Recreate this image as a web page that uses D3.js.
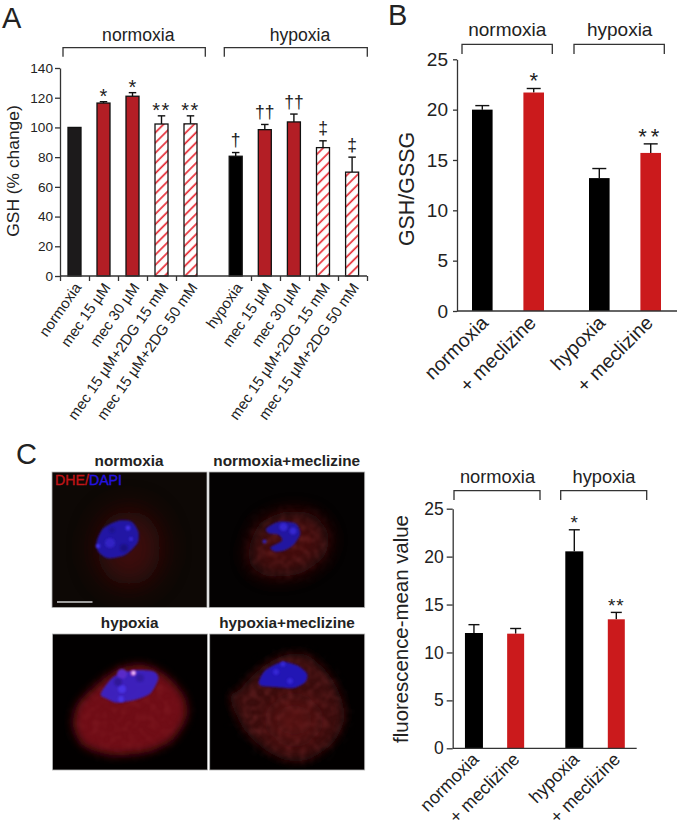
<!DOCTYPE html>
<html><head><meta charset="utf-8">
<script src="https://cdn.jsdelivr.net/npm/d3@7"></script>
<style>
html,body{margin:0;padding:0;background:#fff}
svg{display:block}
text{font-family:"Liberation Sans",Arial,sans-serif;fill:#222}
</style></head><body>
<svg id="fig" width="678" height="827"></svg>
<script>
// ---- Panel A
const categoriesA = ["normoxia","mec 15 µM","mec 30 µM","mec 15 µM+2DG 15 mM","mec 15 µM+2DG 50 mM",
                     "hypoxia","mec 15 µM","mec 30 µM","mec 15 µM+2DG 15 mM","mec 15 µM+2DG 50 mM"];
const valuesA = [100,116.4,121,102.3,102.4,80.6,98.5,103.7,86.4,69.9];
const errorsA = [0,0.9,2.4,5.5,5.4,2.5,3.5,5.3,4.6,10.1];
const marksA  = ["","*","*","**","**","†","††","††","‡","‡"];
const fillsA  = ["dark","red","red","hatch","hatch","black","red","red","hatch","hatch"];
const ticksA  = [0,20,40,60,80,100,120,140];
// ---- Panel B
const categoriesB = ["normoxia","+ meclizine","hypoxia","+ meclizine"];
const valuesB = [20,21.7,13.2,15.7];
const errorsB = [0.4,0.4,0.95,0.9];
const marksB  = ["","*","","**"];
// ---- Panel C chart
const categoriesC = ["normoxia","+ meclizine","hypoxia","+ meclizine"];
const valuesC = [12.03,11.96,20.55,13.46];
const errorsC = [0.87,0.54,2.25,0.72];
const marksC  = ["","","*","**"];
const ticksBC = [0,5,10,15,20,25];
const groupLabels = ["normoxia","hypoxia"];
const imageTitles = ["normoxia","normoxia+meclizine","hypoxia","hypoxia+meclizine"];

const svg = d3.select("#fig");
const defs = svg.append("defs");
const INK="#222", RED_A="#b31e25", RED_B="#cb1a1c", HATCH="#e62b35";

defs.append("pattern").attr("id","hatch").attr("patternUnits","userSpaceOnUse")
  .attr("width",7.2).attr("height",7.2).attr("patternTransform","rotate(45)")
  .call(p=>{p.append("rect").attr("width",7.2).attr("height",7.2).attr("fill","#fff");
            p.append("line").attr("x1",2).attr("x2",2).attr("y1",0).attr("y2",7.2)
             .attr("stroke",HATCH).attr("stroke-width",1.7);});

const fillOf = {dark:"#1c1a1b",black:"#000",red:RED_A,hatch:"url(#hatch)"};

function yAxis(g,y,ticks,opt){
  const a=g.append("g").attr("transform",`translate(${opt.x},0)`)
    .call(d3.axisLeft(y).tickValues(ticks).tickSize(opt.tick).tickSizeOuter(0).tickPadding(opt.pad).tickFormat(d3.format("d")));
  a.selectAll("text").attr("font-size",opt.font).attr("font-family",null).attr("fill",INK);
  a.selectAll("line,path").attr("stroke","#333").attr("stroke-width",1.3);
  a.attr("font-family",null);
}
function bracket(g,x0,x1,y0,y1,label,lx,ly,size){
  g.append("path").attr("d",d3.line()([[x0,y1],[x0,y0],[x1,y0],[x1,y1]]))
    .attr("fill","none").attr("stroke","#333").attr("stroke-width",1.3);
  g.append("text").attr("x",lx).attr("y",ly).attr("text-anchor","middle").attr("font-size",size).text(label);
}
function errorBar(g,x,y,v,e,cap){
  if(!e) return;
  g.append("line").attr("x1",x).attr("x2",x).attr("y1",y(v)).attr("y2",y(v+e)).attr("stroke","#111").attr("stroke-width",1.4);
  g.append("line").attr("x1",x-cap/2).attr("x2",x+cap/2).attr("y1",y(v+e)).attr("y2",y(v+e)).attr("stroke","#111").attr("stroke-width",1.4);
}
function rotLabel(g,x,y,t,size,angle){
  g.append("text").attr("transform",`translate(${x},${y}) rotate(${angle})`)
    .attr("text-anchor","end").attr("font-size",size).text(t);
}
function yTitle(g,x,y,t,size){
  g.append("text").attr("transform",`translate(${x},${y}) rotate(-90)`)
    .attr("text-anchor","middle").attr("font-size",size).text(t);
}
function letter(t,x,y){ svg.append("text").attr("x",x).attr("y",y).attr("font-size",29).text(t); }

// ============ Panel A
(function(){
  const g=svg.append("g");
  const y=d3.scaleLinear().domain([0,140]).range([276,68]);
  const bandL=d3.scaleBand().domain(d3.range(5)).range([60,205]);
  const bandR=d3.scaleBand().domain(d3.range(5,10)).range([221.2,366.7]);
  const cx=i=>(i<5?bandL(i):bandR(i))+bandL.bandwidth()/2;
  const bw=13;
  categoriesA.forEach((c,i)=>{
    errorBar(g,cx(i),y,valuesA[i],errorsA[i],7.5);
    g.append("rect").attr("x",cx(i)-bw/2).attr("width",bw).attr("y",y(valuesA[i])).attr("height",y(0)-y(valuesA[i]))
      .attr("fill",fillOf[fillsA[i]]).attr("stroke","#111").attr("stroke-width",1.3);
    rotLabel(g,cx(i)+7.5,287.5,c,14.9,-55);
    const m=marksA[i];
    if(m){
      const star=m[0]==="*";
      g.append("text").attr("x",cx(i)).attr("y",y(valuesA[i]+errorsA[i])+(star?1.5:-6.5))
        .attr("text-anchor","middle").attr("font-size",star?20:17.5)
        .attr("letter-spacing",star&&m.length>1?1.5:0).text(m);
    }
  });
  // x axis: ticks on the band edges between bars
  const xl=d3.scaleLinear().domain([0,5]).range([60,205]);
  const xr=d3.scaleLinear().domain([0,5]).range([222,367]);
  [[xl,[0,1,2,3,4]],[xr,[1,2,3,4,5]]].forEach(([s,tv])=>{
    const a=g.append("g").attr("transform","translate(0,276)")
      .call(d3.axisBottom(s).tickValues(tv).tickSize(5).tickSizeOuter(0).tickFormat(""));
    a.select("path").remove();
    a.selectAll("line").attr("stroke","#333").attr("stroke-width",1.3);
  });
  g.append("line").attr("x1",60).attr("x2",367).attr("y1",y(0)).attr("y2",y(0)).attr("stroke","#333").attr("stroke-width",1.3);
  yAxis(g,y,ticksA,{x:60,tick:5,pad:2,font:13.6});
  yTitle(g,19,171,"GSH (% change)",17.4);
  bracket(g,63,205.3,47.7,56.7,groupLabels[0],138.3,41,17.6);
  bracket(g,224.3,367.3,47.7,56.7,groupLabels[1],300,41,17.6);
})();
letter("A",2,28);

// ============ Panels B and C charts
function simple(o){
  const g=svg.append("g");
  const y=d3.scaleLinear().domain([0,25]).range(o.yr);
  const left=d3.scaleBand().domain([0,1]).range(o.leftRange);
  const right=d3.scaleBand().domain([2,3]).range(o.rightRange);
  const cx=i=>(i<2?left(i)+left.bandwidth()/2:right(i)+right.bandwidth()/2);
  o.cats.forEach((c,i)=>{
    errorBar(g,cx(i),y,o.vals[i],o.errs[i],o.cap);
    const black=i%2===0, w=black?o.bw:o.bwRed;
    g.append("rect").attr("x",cx(i)-w/2).attr("width",w).attr("y",y(o.vals[i])).attr("height",y(0)-y(o.vals[i]))
      .attr("fill",black?"#000":RED_B);
    rotLabel(g,cx(i)+o.lx+(black?0:o.lxRed),y(0)+o.ly,c,o.lfont,-45);
    if(o.marks[i]) g.append("text").attr("x",cx(i)).attr("y",y(o.vals[i]+o.errs[i])+o.mdy)
      .attr("text-anchor","middle").attr("font-size",o.mfont)
      .attr("letter-spacing",o.marks[i].length>1?o.mls:0).text(o.marks[i]);
  });
  g.append("line").attr("x1",o.x0).attr("x2",o.xEnd).attr("y1",y(0)).attr("y2",y(0)).attr("stroke","#333").attr("stroke-width",1.3);
  yAxis(g,y,ticksBC,{x:o.x0,tick:o.tick,pad:o.pad,font:o.font});
  yTitle(g,o.tx,o.ty,o.title,o.tfont);
  bracket(g,o.b1[0],o.b1[1],o.by[0],o.by[1],groupLabels[0],o.gl[0],o.gl[2],o.gfont);
  bracket(g,o.b2[0],o.b2[1],o.by[0],o.by[1],groupLabels[1],o.gl[1],o.gl[2],o.gfont);
}
simple({cats:categoriesB,vals:valuesB,errs:errorsB,marks:marksB,yr:[311,59.3],
  leftRange:[456.6,559.4],rightRange:[573.6,676.4],bw:20.6,bwRed:20.6,cap:14,
  lx:7,lxRed:-3.5,ly:13,lfont:19.5,mdy:0,mfont:22,mls:4,x0:457,xEnd:677,tick:4,pad:5,font:19,
  tx:414,ty:189,title:"GSH/GSSG",tfont:21.4,b1:[462,552.3],b2:[574,664.3],by:[44.3,54],
  gl:[507.3,619.7,36],gfont:19});
letter("B",388,25);

simple({cats:categoriesC,vals:valuesC,errs:errorsC,marks:marksC,yr:[748.3,508.7],
  leftRange:[453.1,536.5],rightRange:[553.3,637.3],bw:18,bwRed:17,cap:11,
  lx:6,lxRed:-1,ly:12,lfont:18,mdy:-0.5,mfont:19,mls:1,x0:452.7,xEnd:636.7,tick:6,pad:3,font:17.5,
  tx:408,ty:629,title:"fluorescence-mean value",tfont:20.4,b1:[454,540],b2:[560.7,646.7],by:[490.7,500],
  gl:[497.5,604,483],gfont:18.3});
letter("C",16,464);

// ============ Panel C micrographs (decorative images, not data)
function blur(id,s){defs.append("filter").attr("id",id).attr("x","-150%").attr("y","-150%").attr("width","400%").attr("height","400%")
  .append("feGaussianBlur").attr("stdDeviation",s);}
blur("b1",1.2);blur("b2",5);blur("b3",9);blur("b4",15);
const mottle=defs.append("filter").attr("id","mottle").attr("x","-10%").attr("y","-10%").attr("width","120%").attr("height","120%");
mottle.append("feTurbulence").attr("type","fractalNoise").attr("baseFrequency",0.14).attr("numOctaves",2).attr("seed",4).attr("result","n");
mottle.append("feColorMatrix").attr("in","n").attr("type","matrix")
  .attr("values","0 0 0 0 0.55  0 0 0 0 0.08  0 0 0 0 0.09  1.8 0 0 0 -0.72").attr("result","c");
mottle.append("feGaussianBlur").attr("in","c").attr("stdDeviation",1.1).attr("result","cb");
mottle.append("feGaussianBlur").attr("in","SourceAlpha").attr("stdDeviation",9).attr("result","sa");
mottle.append("feComposite").attr("in","cb").attr("in2","sa").attr("operator","in");

const smooth=d3.line().curve(d3.curveCardinalClosed.tension(0.2));
function panel(i,x,y,w,h,bg,draw){
  const id="clip"+i;
  defs.append("clipPath").attr("id",id).append("rect").attr("x",x).attr("y",y).attr("width",w).attr("height",h);
  const g=svg.append("g");
  g.append("rect").attr("x",x).attr("y",y).attr("width",w).attr("height",h).attr("fill",bg);
  draw(g.append("g").attr("clip-path",`url(#${id})`));
  g.append("rect").attr("x",x).attr("y",y).attr("width",w).attr("height",h).attr("fill","none").attr("stroke","#b5b5b5").attr("stroke-width",0.8);
}
function z(ox,oy,pts){return pts.map(p=>[ox+p[0]/3,oy+p[1]/3]);}
function blob(g,pts,fill,f,op){g.append("path").attr("d",smooth(pts)).attr("fill",fill).attr("filter",f?`url(#${f})`:null).attr("opacity",op==null?1:op);}
function dot(g,x,y,r,fill,f,op){g.append("circle").attr("cx",x).attr("cy",y).attr("r",r).attr("fill",fill).attr("filter",f?`url(#${f})`:null).attr("opacity",op==null?1:op);}

panel(1,52,472,155,135.5,"#0d0805",g=>{
  const P=(a)=>z(50,470,a);
  g.append("ellipse").attr("cx",129).attr("cy",548).attr("rx",32).attr("ry",38).attr("fill","#4a0a0a").attr("filter","url(#b4)").attr("opacity",.85);
  blob(g,P([[140,215],[160,175],[205,152],[245,155],[265,185],[262,220],[225,255],[175,265],[145,245]]),"#2416a4","b1");
  dot(g,128,528,2.4,"#4232e8","b1");dot(g,98,546,2.2,"#4232e8","b1");dot(g,131,539,2,"#3a2cd8","b1");dot(g,110,543,5,"#3222c4","b1");
  dot(g,124,548,4,"#170c70","b1",.6);dot(g,112,530,3,"#170c70","b1",.4);
});
panel(2,209,472,155.7,135.5,"#040202",g=>{
  const P=(a)=>z(207,470,a);
  const c=P([[125,240],[160,160],[240,125],[320,135],[365,195],[350,260],[280,310],[190,320],[135,290]]);
  blob(g,c,"#4a0c0e","b3",.9);
  g.append("path").attr("d",smooth(c)).attr("filter","url(#mottle)").attr("opacity",.3);
  blob(g,P([[178,175],[215,155],[265,160],[280,190],[262,222],[235,240],[205,245],[190,232],[225,212],[215,195],[185,190]]),"#2414a0","b1");
  dot(g,283.5,527,4,"#3626d0","b1");dot(g,293,531,3.5,"#3626d0","b1");dot(g,264.5,541.5,2,"#3022c0","b1");
});
panel(3,52.5,634,155,136,"#020000",g=>{
  const P=(a)=>z(50,632,a);
  const cell=P([[85,215],[150,150],[210,110],[280,100],[345,130],[400,190],[410,250],[370,320],[290,360],[180,368],[100,340],[70,280]]);
  blob(g,cell,"#701014","b2");
  g.append("path").attr("d",smooth(cell)).attr("filter","url(#mottle)").attr("opacity",.15);
  blob(g,P([[152,185],[190,135],[250,115],[310,118],[325,140],[300,185],[250,205],[200,212],[170,200]]),"#3a22c4","b1",.95);
  dot(g,122,674,5,"#5a2cc8","b1");dot(g,133,673,3,"#b030b0","b1",.6);dot(g,133.5,673,2.2,"#f0c0ff","b1");
  dot(g,122,689,4,"#4a30e4","b1");dot(g,121,699,3,"#4a30e4","b1");
  dot(g,118,682,4,"#241070","b1",.45);dot(g,140,678,4,"#241070","b1",.35);
});
panel(4,209.7,634,155,136,"#020000",g=>{
  const P=(a)=>z(207,632,a);
  const cell=P([[100,170],[160,110],[230,70],[300,70],[360,120],[400,190],[412,260],[380,330],[310,380],[240,385],[170,350],[110,290],[70,200]]);
  blob(g,cell,"#3a0a0c","b2");
  g.append("path").attr("d",smooth(cell)).attr("filter","url(#mottle)").attr("opacity",.3);
  g.append("ellipse").attr("cx",294).attr("cy",720).attr("rx",24).attr("ry",22).attr("fill","#6a1215").attr("filter","url(#b3)").attr("opacity",.5);
  blob(g,P([[155,150],[175,115],[225,90],[270,100],[300,125],[295,150],[260,168],[200,165],[165,162]]),"#2212b4","b1");
  dot(g,276,672,3,"#3626d4","b1");dot(g,290,681,3,"#3626d4","b1");dot(g,283,664,2.5,"#3626d4","b1");
});
// image captions
[[129,465.7],[286.7,465.7],[129.7,627.7],[287,627.7]].forEach((p,i)=>{
  svg.append("text").attr("x",p[0]).attr("y",p[1]).attr("text-anchor","middle").attr("font-size",15.3).attr("font-weight","bold").text(imageTitles[i]);
});
const tag=svg.append("text").attr("x",55).attr("y",485).attr("font-size",14.2).attr("stroke-width",.35);
tag.append("tspan").style("fill","#c01418").attr("stroke","#c01418").text("DHE/");
tag.append("tspan").style("fill","#2412e0").attr("stroke","#2412e0").text("DAPI");
svg.append("line").attr("x1",57).attr("x2",92.5).attr("y1",602).attr("y2",602).attr("stroke","#d0d0d0").attr("stroke-width",1.6);
</script>
</body></html>
